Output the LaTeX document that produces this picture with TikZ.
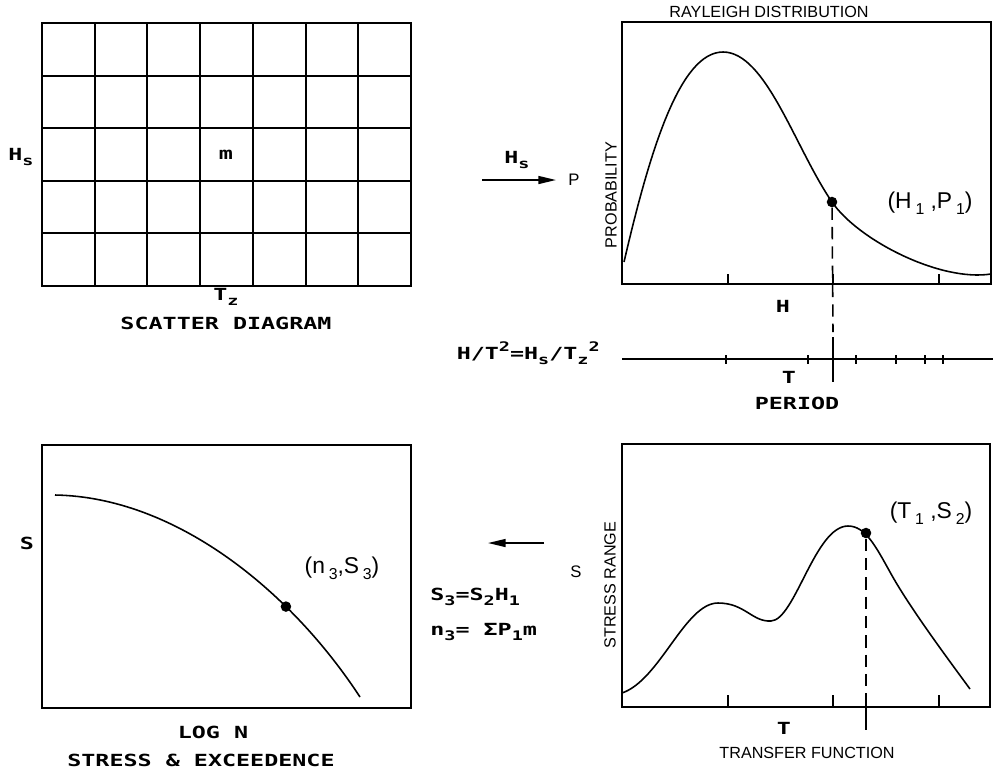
\documentclass[tikz,border=0pt]{standalone}
\usepackage{fontspec}
\setmainfont{Liberation Sans}
\newfontfamily\plotfont[FakeStretch=1.4]{DejaVu Sans Mono}
\usetikzlibrary{arrows.meta}

\newcommand{\lo}[1]{\raisebox{-0.55ex}{\fontsize{7.5}{8}\selectfont #1}}
\newcommand{\hi}[1]{\raisebox{0.9ex}{\fontsize{7.5}{8}\selectfont #1}}
\newcommand{\pairsub}[1]{\raisebox{-0.5ex}{\fontsize{9}{10}\selectfont #1}}

\begin{document}
\begin{tikzpicture}[
    x=0.02cm, y=-0.02cm,
    frame/.style={draw, line width=1.1pt},
    curve/.style={line width=0.9pt},
    tick/.style={line width=1.1pt},
    guide/.style={line width=0.9pt, dash pattern=on 7pt off 4pt},
    arrow/.style={-{Triangle[length=10pt,width=4.5pt]}, line width=0.9pt},
    dot/.style={circle, fill, inner sep=0pt, minimum size=6pt},
    plotlbl/.style={font=\plotfont\bfseries\fontsize{9.5}{11}\selectfont, inner sep=0pt},
    helv/.style={font=\fontsize{9.2}{11}\selectfont, inner sep=0pt},
    pairlbl/.style={font=\fontsize{13}{15}\selectfont, inner sep=0pt}
]
\useasboundingbox (0,0) rectangle (993,772);

% Scatter diagram
\draw[frame] (42,23) rectangle (411,286);
\foreach \i in {1,...,6} \draw[frame] ({42+\i*52.71},23) -- ++(0,263);
\foreach \j in {1,...,4} \draw[frame] (42,{23+\j*52.6}) -- ++(369,0);
\node[plotlbl] (hs)      at (21,157)  {H\lo{s}};
\node[plotlbl] (m)       at (226,155) {m};
\node[plotlbl] (tz)      at (226,297) {T\lo{z}};
\node[plotlbl] (scatter) at (226,323) {SCATTER DIAGRAM};

% Hs -> P
\coordinate (hsfrom) at (482,180);
\coordinate (hsto)   at (556,180);
\draw[arrow] (hsfrom) -- (hsto);
\node[plotlbl] (hslbl) at (517,160) {H\lo{s}};
\node[helv, font=\fontsize{9.5}{11}\selectfont] (p) at (574,180) {P};

% Rayleigh distribution
\draw[frame] (622,22) rectangle (991,284);
\foreach \x in {728,833,939} \draw[tick] (\x,284) -- ++(0,-10);
\node[helv] (rayleigh) at (769,12) {RAYLEIGH DISTRIBUTION};
\node[helv, rotate=90] (prob) at (611,195) {PROBABILITY};
\draw[curve] (624,262) .. controls (650,150) and (680,52) .. (723,52)
  .. controls (766,52) and (795,148) .. (832,202)
  .. controls (858,240) and (940,282) .. (991,274);
\node[dot] (h1) at (832,202) {};
\node[pairlbl] (h1lbl) at (930,203) {(H\,\pairsub{1} ,P\,\pairsub{1})};
\node[plotlbl] (hlbl) at (783,306) {H};
\coordinate (tcross) at (833,332);
\draw[guide] (h1) -- (tcross);

% Period axis
\coordinate (tax0) at (622,359);
\coordinate (tax1) at (993,359);
\draw[tick] (tax0) -- (tax1);
\foreach \x in {726,808,856,896,925,943} \draw[tick] (\x,355) -- (\x,364);
\draw[line width=1.6pt] (833,337) -- (833,382);
\node[plotlbl, anchor=east] (ratio) at (600,353) {H/T\hi{2}=H\lo{s}/T\lo{z}\hi{2}};
\node[plotlbl] (tlbl)   at (789,377) {T};
\node[plotlbl] (period) at (797,403) {PERIOD};

% Transfer function
\draw[frame] (622,444) rectangle (990,707);
\foreach \x in {728,833,939} \draw[tick] (\x,707) -- ++(0,-12);
\draw[curve] (622,693) .. controls (660,680) and (685,603) .. (718,603)
  .. controls (745,603) and (752,622) .. (771,621)
  .. controls (795,620) and (815,526) .. (848,526)
  .. controls (865,526) and (875,545) .. (890,572)
  .. controls (908,605) and (945,655) .. (970,689);
\node[dot] (s2) at (866,533) {};
\node[pairlbl] (s2lbl) at (931,513) {(T\,\pairsub{1} ,S\,\pairsub{2})};
\coordinate (tfbot) at (866,707);
\draw[guide] (s2) -- (tfbot);
\draw[tick] (tfbot) -- ++(0,23);
\node[helv, font=\fontsize{9.5}{11}\selectfont] (slbl) at (576,572) {S};
\node[helv, rotate=90] (range) at (610,585) {STRESS RANGE};
\node[plotlbl] (t2lbl) at (784,728) {T};
\node[helv] (transfer) at (807,753) {TRANSFER FUNCTION};

% back arrow and formulas
\coordinate (ra) at (544,543);
\coordinate (rb) at (488,543);
\draw[arrow] (ra) -- (rb);
\node[plotlbl, anchor=west] (s3eq) at (430,597) {S\lo{3}=S\lo{2}H\lo{1}};
\node[plotlbl, anchor=west] (n3eq) at (430,632) {n\lo{3}= ΣP\lo{1}m};

% Stress and exceedence
\draw[frame] (42,445) rectangle (411,708);
\draw[curve] (55,495) .. controls (175,497) and (290,590) .. node[dot, pos=0.7] (s3) {} (360,697);
\node[pairlbl] (s3lbl) at (342,568) {(n\,\pairsub{3},S\,\pairsub{3})};
\node[plotlbl] (slbl2)  at (27,543)  {S};
\node[plotlbl] (logn)   at (213,732) {LOG N};
\node[plotlbl] (stress) at (201,760) {STRESS \& EXCEEDENCE};

\end{tikzpicture}
\end{document}
